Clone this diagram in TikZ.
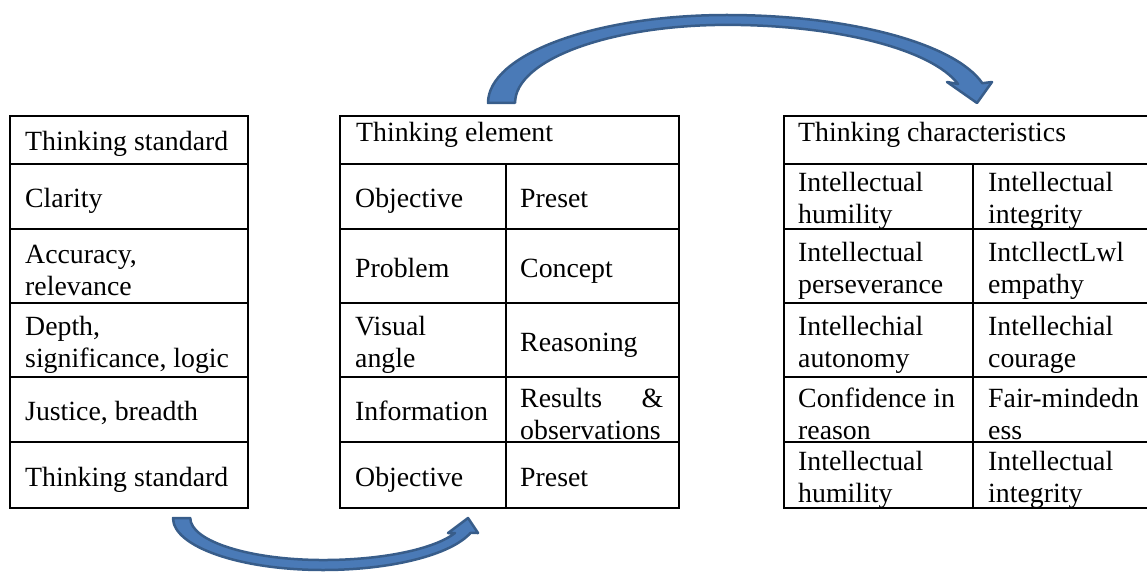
\documentclass[tikz,border=0pt]{standalone}
\usepackage{fontspec}
\setmainfont{Liberation Serif}
\usetikzlibrary{calc}

\definecolor{arrowfill}{RGB}{74,122,183}
\definecolor{arrowedge}{RGB}{56,93,138}
\newcommand{\cellfont}{\fontsize{27.8}{32}\selectfont}

\begin{document}
\begin{tikzpicture}[x=1pt, y=-1pt,
		grid/.style = {line width = 1.6pt},
		entry/.style = {anchor = west, inner sep = 0pt, align = left, font = \cellfont, yshift = -4.5pt},
		line/.style = {entry, text height = 19pt, text depth = 6pt},
		bent arrow/.style = {fill = arrowfill, draw = arrowedge, line width = 2.5pt, line join = round}]
		\useasboundingbox (0,0) rectangle (1147,572);
		
		\def\top{116};
		\def\bottom{508};
		\def\rowlines{164,229,303,377,442};
		\def\ra{140}
		\def\rb{196.5}
		\def\rc{266}
		\def\rd{340}
		\def\re{409.5}
		\def\rf{475}
		\def\headrow{131}
		
		% the three tables
		\draw [grid] (10,\top) rectangle (248,\bottom);
		\draw [grid] (340,\top) rectangle (679,\bottom);
		\draw [grid] (784,\top) rectangle (1148,\bottom);
		\foreach \y in \rowlines {
			\draw [grid] (10,\y) -- (248,\y);
			\draw [grid] (340,\y) -- (679,\y);
			\draw [grid] (784,\y) -- (1148,\y);
		}
		\draw [grid] (506,164) -- (506,\bottom);
		\draw [grid] (973,164) -- (973,\bottom);
		
		% thinking standard
		\node [line] (std head) at (25,\ra) {Thinking standard};
		\node [line] (std clarity) at (25,\rb) {Clarity};
		\node [entry] (std accuracy) at (25,\rc) {Accuracy,\\relevance};
		\node [entry] (std depth) at (25,\rd) {Depth,\\significance, logic};
		\node [line] (std justice) at (25,\re) {Justice, breadth};
		\node [line] (std foot) at (25,\rf) {Thinking standard};
		
		% thinking element
		\node [line] (elem head) at (356,\headrow) {Thinking element};
		\node [line] (elem objective) at (355,\rb) {Objective};
		\node [line] (elem preset) at (520,\rb) {Preset};
		\node [line] (elem problem) at (355,\rc) {Problem};
		\node [line] (elem concept) at (520,\rc) {Concept};
		\node [entry] (elem visual) at (355,\rd) {Visual\\angle};
		\node [line] (elem reasoning) at (520,\rd) {Reasoning};
		\node [line] (elem information) at (355,\re) {Information};
		\node [entry, text width = 143pt] (elem results) at (520,\re) {Results\hfill\&\\observations};
		\node [line] (elem objective 2) at (355,\rf) {Objective};
		\node [line] (elem preset 2) at (520,\rf) {Preset};
		
		% thinking characteristics
		\node [line] (char head) at (798,\headrow) {Thinking characteristics};
		\node [entry] (char humility) at (798,\rb) {Intellectual\\humility};
		\node [entry] (char integrity) at (988,\rb) {Intellectual\\integrity};
		\node [entry] (char perseverance) at (798,\rc) {Intellectual\\perseverance};
		\node [entry] (char empathy) at (988,\rc) {IntcllectLwl\\empathy};
		\node [entry] (char autonomy) at (798,\rd) {Intellechial\\autonomy};
		\node [entry] (char courage) at (988,\rd) {Intellechial\\courage};
		\node [entry] (char confidence) at (798,\re) {Confidence in\\reason};
		\node [entry] (char fair) at (988,\re) {Fair-mindedn\\ess};
		\node [entry] (char humility 2) at (798,\rf) {Intellectual\\humility};
		\node [entry] (char integrity 2) at (988,\rf) {Intellectual\\integrity};
		
		\coordinate (top foot) at (488,103);
		\coordinate (bottom foot) at (173,518);
		
		\draw [bent arrow] (top foot)
			arc [start angle = 180, end angle = 270, x radius = 239, y radius = 88]
			arc [start angle = 270, end angle = 347, x radius = 262, y radius = 88]
			-- (992,82) -- (977,103) -- (947,82) -- (958,84)
			arc [start angle = 346, end angle = 270, x radius = 238, y radius = 78]
			arc [start angle = 270, end angle = 180, x radius = 212, y radius = 78]
			-- cycle;
		
		\draw [bent arrow] (bottom foot)
			arc [start angle = 180, end angle = 90, x radius = 150, y radius = 52]
			arc [start angle = 90, end angle = 16.7, x radius = 154, y radius = 52]
			-- (478,533) -- (468,518) -- (448,533) -- (455,533)
			arc [start angle = 20.9, end angle = 90, x radius = 141, y radius = 42]
			arc [start angle = 90, end angle = 180, x radius = 133, y radius = 42]
			-- cycle;
	\end{tikzpicture}
\end{document}
